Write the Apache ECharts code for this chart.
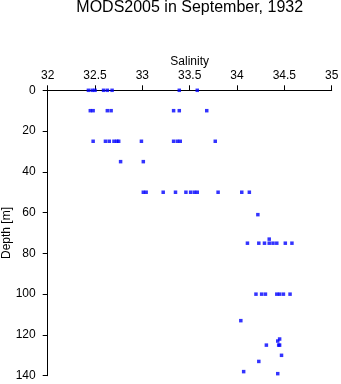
<!DOCTYPE html>
<html>
<head>
<meta charset="utf-8">
<style>
  html, body { margin: 0; padding: 0; background: #fff; }
  #chart { width: 341px; height: 384px; }
</style>
<script src="https://cdn.jsdelivr.net/npm/echarts@6.0.0/dist/echarts.min.js"></script>
</head>
<body>
<div id="chart"></div>
<script>
// Salinity profile observations, September 1932 (MODS2005)
const depthM = [
  0, 0, 0, 0, 0, 0, 0, 0,
  10, 10, 10, 10, 10, 10, 10,
  25, 25, 25, 25, 25, 25, 25, 25, 25, 25, 25,
  35, 35,
  50, 50, 50, 50, 50, 50, 50, 50, 50, 50, 50,
  61, 73,
  75, 75, 75, 75, 75, 75, 75, 75,
  100, 100, 100, 100, 100, 100, 100,
  113, 122, 123, 125, 125, 125, 130, 133, 138, 139
];
const salinity = [
  32.43, 32.47, 32.50, 32.59, 32.63, 32.68, 33.39, 33.58,
  32.45, 32.48, 32.63, 32.67, 33.33, 33.39, 33.68,
  32.48, 32.61, 32.65, 32.70, 32.73, 32.75, 32.99, 33.33, 33.37, 33.40, 33.77,
  32.77, 33.01,
  33.01, 33.04, 33.22, 33.35, 33.46, 33.51, 33.55, 33.58, 33.80, 34.05, 34.13,
  34.22, 34.34,
  34.11, 34.23, 34.29, 34.34, 34.38, 34.42, 34.51, 34.58,
  34.20, 34.26, 34.30, 34.42, 34.45, 34.49, 34.56,
  34.04, 34.45, 34.43, 34.45, 34.31, 34.44, 34.47, 34.23, 34.07, 34.43
];
const salinityTicks = [32, 32.5, 33, 33.5, 34, 34.5, 35];
const depthTicks = [0, 20, 40, 60, 80, 100, 120, 140];

const points = salinity.map((s, i) => [s, depthM[i]]);
const font = '"Liberation Sans", Arial, Helvetica, sans-serif';

const chart = echarts.init(document.getElementById('chart'), null, { renderer: 'canvas' });
chart.setOption({
  animation: false,
  backgroundColor: '#ffffff',
  title: {
    text: 'MODS2005 in September, 1932',
    left: 189.7,
    textAlign: 'center',
    top: 0,
    padding: 0,
    textStyle: { fontFamily: font, fontSize: 16, fontWeight: 'normal', color: '#000' }
  },
  grid: {
    left: 47.7, right: 9.3, top: 90.3, bottom: 8.3,
    containLabel: false,
    outerBoundsMode: 'none'
  },
  xAxis: {
    type: 'value',
    position: 'top',
    min: salinityTicks[0],
    max: salinityTicks[salinityTicks.length - 1],
    interval: 0.5,
    name: 'Salinity',
    nameLocation: 'middle',
    nameGap: 23,
    nameMoveOverlap: false,
    nameTextStyle: { fontFamily: font, fontSize: 12, color: '#000' },
    axisLine: { show: true, onZero: false, lineStyle: { color: '#000', width: 1 } },
    axisTick: { show: true, length: 5, lineStyle: { color: '#000' } },
    axisLabel: { fontFamily: font, fontSize: 12, color: '#000', margin: 9,
      formatter: v => String(v) },
    splitLine: { show: false }
  },
  yAxis: {
    type: 'value',
    inverse: true,
    min: depthTicks[0],
    max: depthTicks[depthTicks.length - 1],
    interval: 20,
    name: 'Depth [m]',
    nameLocation: 'middle',
    nameGap: 35,
    nameMoveOverlap: false,
    nameRotate: 90,
    nameTextStyle: { fontFamily: font, fontSize: 12, color: '#000' },
    axisLine: { show: true, onZero: false, lineStyle: { color: '#000', width: 1 } },
    axisTick: { show: true, length: 5, lineStyle: { color: '#000' } },
    axisLabel: { fontFamily: font, fontSize: 12, color: '#000', margin: 12 },
    splitLine: { show: false }
  },
  series: [{
    type: 'scatter',
    data: points,
    symbol: 'rect',
    symbolSize: 3.5,
    itemStyle: { color: '#0000ff' },
    silent: true
  }]
});
</script>
</body>
</html>
